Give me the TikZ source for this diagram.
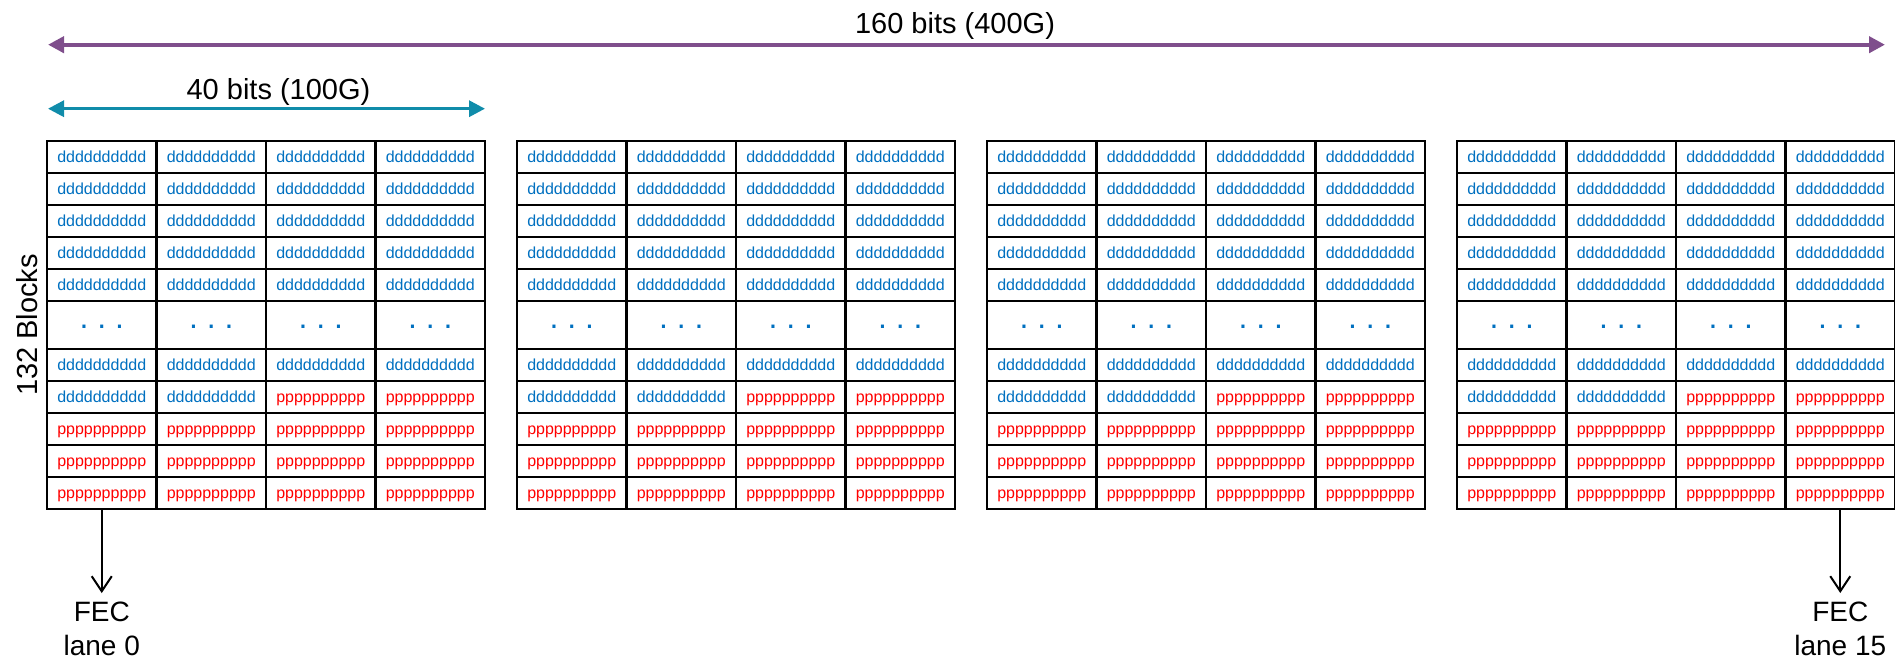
\documentclass[tikz,border=0pt]{standalone}
\usepackage{fontspec}
\setmainfont{Liberation Sans}
\usetikzlibrary{arrows.meta}
\definecolor{dblue}{RGB}{0,112,192}
\definecolor{pred}{RGB}{255,0,0}
\definecolor{wide}{RGB}{127,78,140}
\definecolor{narrow}{RGB}{16,140,170}
\tikzset{
    cell/.style={draw, line width=2.6pt, outer sep=0pt, inner sep=0pt,
        minimum width=109.5pt, minimum height=32pt,
        text height=11.6pt, text depth=0pt, font=\fontsize{16}{19}\selectfont},
    dcell/.style={cell, text=dblue},
    pcell/.style={cell, text=pred},
    gapcell/.style={cell, text=dblue, minimum height=48pt,
        text height=7.4pt, font=\fontsize{32}{32}\selectfont},
    lbl/.style={font=\fontsize{29}{34}\selectfont, inner sep=0pt},
    fec/.style={font=\fontsize{28}{33.5}\selectfont, align=center, inner sep=0pt, anchor=north},
    span/.style={line width=#1, {Triangle[length=16pt,width=16pt]}-{Triangle[length=16pt,width=16pt]}},
    lane/.style={line width=2pt, -{Straight Barb[length=15pt,width=20pt]}, shorten >=9pt},
}

\begin{document}
\begin{tikzpicture}[x=1pt, y=-1pt]
            \useasboundingbox (0,0) rectangle (1895,663);
            % four groups of 4 x 11 blocks, row 6 stands for the rows left out
            \foreach \g in {1,...,4}{
                \foreach \c in {1,...,4}{
                    \pgfmathsetmacro{\xc}{47+470*(\g-1)+109.5*(\c-0.5)}
                    \foreach \r in {1,...,11}{
                        \pgfmathsetmacro{\yc}{125+32*\r+16*(\r>6)+8*(\r==6)}
                        \pgfmathtruncatemacro{\isd}{(\r<8) || (\r==8 && \c<3)}
                        \ifnum\r=6
                            \node[gapcell] (g\g-\r-\c) at (\xc,\yc) {.\ .\ .};
                        \else\ifnum\isd=1
                            \node[dcell] (g\g-\r-\c) at (\xc,\yc) {dddddddddd};
                        \else
                            \node[pcell] (g\g-\r-\c) at (\xc,\yc) {pppppppppp};
                        \fi\fi
                    }
                }
            }
            \coordinate (a400l) at (48,44.7);
            \coordinate (a400r) at (1885,44.7);
            \coordinate (a100l) at (48,108.7);
            \coordinate (a100r) at (485,108.7);
            \draw[span=4pt, wide] (a400l) -- (a400r);
            \draw[span=3.2pt, narrow] (a100l) -- (a100r);
            \node[lbl, anchor=base] (w400) at (955,33.3) {160 bits (400G)};
            \node[lbl, anchor=base] (w100) at (278.5,99.3) {40 bits (100G)};
            \node[lbl, rotate=90] (blocks) at (27.5,325) {132 Blocks};
            \node[fec] (lane0) at (101.75,602) {FEC\\lane 0};
            \node[fec] (lane15) at (1840.25,602) {FEC\\lane 15};
            \draw[lane] (g1-11-1.south) -- (lane0.north);
            \draw[lane] (g4-11-4.south) -- (lane15.north);
\end{tikzpicture}
\end{document}
